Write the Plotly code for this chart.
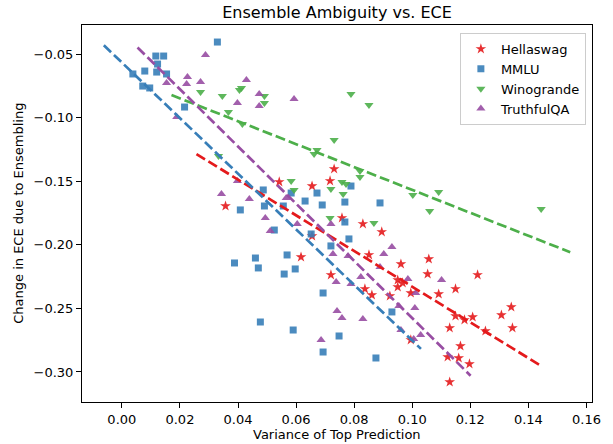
import numpy as np
import plotly.graph_objects as go

# ---- data ----
hella_x = [0.0357, 0.0542, 0.0655, 0.0717, 0.0731, 0.0655, 0.0617, 0.0758, 0.0830, 0.0895,
           0.0851, 0.0961, 0.1057, 0.0720, 0.1053, 0.1225, 0.0950, 0.0950, 0.0967, 0.0995,
           0.1091, 0.1149, 0.0837, 0.0861, 0.0923, 0.1149, 0.1180, 0.1208, 0.1307, 0.1341,
           0.1345, 0.1129, 0.1252, 0.1166, 0.0995, 0.1122, 0.1160, 0.1197, 0.1129]
hella_y = [-0.1695, -0.1506, -0.1538, -0.1498, -0.1404, -0.1931, -0.2096, -0.1789, -0.1836, -0.1899,
           -0.2080, -0.2151, -0.2112, -0.2237, -0.2230, -0.2237, -0.2277, -0.2332, -0.2300, -0.2379,
           -0.2387, -0.2347, -0.2347, -0.2395, -0.2403, -0.2560, -0.2591, -0.2568, -0.2552, -0.2489,
           -0.2654, -0.2654, -0.2678, -0.2796, -0.2748, -0.2882, -0.2890, -0.2937, -0.3079]

mmlu_x = [0.0329, 0.0117, 0.0144, 0.0123, 0.0079, 0.0120, 0.0154, 0.0038, 0.0072, 0.0096,
          0.0216, 0.0487, 0.0408, 0.0491, 0.0556, 0.0583, 0.0631, 0.0672, 0.0690, 0.0525,
          0.0652, 0.0388, 0.0460, 0.0470, 0.0569, 0.0559, 0.0597, 0.0693, 0.0477, 0.0590,
          0.0693, 0.0789, 0.0768, 0.0889, 0.0768, 0.0782, 0.0720, 0.0930, 0.0748, 0.0875]
mmlu_y = [-0.0406, -0.0516, -0.0516, -0.0579, -0.0634, -0.0642, -0.0657, -0.0657, -0.0752, -0.0767,
          -0.0917, -0.1569, -0.1726, -0.1695, -0.1695, -0.1593, -0.1656, -0.1593, -0.1687, -0.1884,
          -0.1915, -0.2143, -0.2104, -0.2182, -0.2080, -0.2230, -0.2190, -0.2379, -0.2607, -0.2670,
          -0.2843, -0.1538, -0.1664, -0.1671, -0.1821, -0.1954, -0.2009, -0.2528, -0.2717, -0.2890]

wino_x = [0.0271, 0.0346, 0.0367, 0.0405, 0.0412, 0.0415, 0.0333, 0.0491, 0.0491, 0.0789,
          0.0851, 0.0731, 0.0672, 0.0662, 0.0820, 0.0820, 0.0758, 0.0772, 0.0720, 0.0762,
          0.0583, 0.0593, 0.0717, 0.0868, 0.1002, 0.1091, 0.1060, 0.1444]
wino_y = [-0.0799, -0.0830, -0.0956, -0.0783, -0.0767, -0.1050, -0.1302, -0.0830, -0.0885, -0.0814,
          -0.0901, -0.1176, -0.1255, -0.1286, -0.1420, -0.1467, -0.1506, -0.1522, -0.1561, -0.1601,
          -0.1498, -0.1569, -0.1789, -0.1829, -0.1608, -0.1585, -0.1734, -0.1719]

tqa_x = [0.0288, 0.0226, 0.0223, 0.0271, 0.0154, 0.0429, 0.0398, 0.0473, 0.0473, 0.0593,
         0.0189, 0.0343, 0.0398, 0.0439, 0.0494, 0.0511, 0.0566, 0.0604, 0.0720, 0.0727,
         0.0779, 0.0902, 0.0930, 0.0889, 0.0985, 0.1101, 0.0738, 0.0823, 0.0789, 0.1012,
         0.0954, 0.1009, 0.0741, 0.0758, 0.0830, 0.0961, 0.1029, 0.1005, 0.0686]
tqa_y = [-0.0508, -0.0681, -0.0736, -0.0720, -0.0728, -0.0704, -0.0885, -0.0814, -0.0909, -0.0854,
         -0.0995, -0.1601, -0.1498, -0.1640, -0.1789, -0.1892, -0.1632, -0.1836, -0.1836, -0.2072,
         -0.2088, -0.2072, -0.2017, -0.2175, -0.2269, -0.2277, -0.2292, -0.2253, -0.2308, -0.2379,
         -0.2481, -0.2497, -0.2520, -0.2575, -0.2583, -0.2670, -0.2709, -0.2741, -0.2748]

x_ticks = [0.00, 0.02, 0.04, 0.06, 0.08, 0.10, 0.12, 0.14, 0.16]
x_ticktext = ["0.00", "0.02", "0.04", "0.06", "0.08", "0.10", "0.12", "0.14", "0.16"]
y_ticks = [-0.30, -0.25, -0.20, -0.15, -0.10, -0.05]
y_ticktext = ["\u22120.30", "\u22120.25", "\u22120.20", "\u22120.15", "\u22120.10", "\u22120.05"]

series = [
    ("Hellaswag", hella_x, hella_y, "#e41a1c", "star", 8),
    ("MMLU", mmlu_x, mmlu_y, "#377eb8", "square", 7),
    ("Winogrande", wino_x, wino_y, "#4daf4a", "triangle-down", 8),
    ("TruthfulQA", tqa_x, tqa_y, "#984ea3", "triangle-up", 8),
]

fig = go.Figure()
for name, xs, ys, col, sym, sz in series:
    fig.add_trace(go.Scatter(
        x=xs, y=ys, mode="markers", name=name,
        marker=dict(symbol=sym, color=col, size=sz, opacity=0.9, line=dict(width=0)),
    ))
for name, xs, ys, col, sym, sz in series:
    xa = np.array(xs)
    ya = np.array(ys)
    m, b = np.polyfit(xa, ya, 1)
    lx = np.array([xa.min() - 0.01, xa.max() + 0.01])
    fig.add_trace(go.Scatter(
        x=lx, y=m * lx + b, mode="lines", showlegend=False,
        line=dict(color=col, width=2.7, dash="10px,4px"),
    ))

font = "DejaVu Sans, Arial, sans-serif"
axis_common = dict(
    showgrid=False, zeroline=False, showline=True, linecolor="black", linewidth=1,
    mirror=True, ticks="outside", ticklen=5, tickcolor="black", tickwidth=1,
    tickfont=dict(family=font, size=13, color="black"),
)
fig.update_layout(
    width=613, height=444,
    margin=dict(l=82, r=19, t=25, b=42),
    paper_bgcolor="white", plot_bgcolor="white",
    title=dict(text="Ensemble Ambiguity vs. ECE", x=0.5, xref="paper", xanchor="center",
               y=1 - 12 / 444, yanchor="middle",
               font=dict(family=font, size=16, color="black")),
    xaxis=dict(range=[-0.01372, 0.1619], tickvals=x_ticks, ticktext=x_ticktext, **axis_common),
    yaxis=dict(range=[-0.3236, -0.0272], tickvals=y_ticks, ticktext=y_ticktext, **axis_common),
    legend=dict(x=0.988, xanchor="right", y=0.979, yanchor="top",
                bgcolor="rgba(255,255,255,0.8)", bordercolor="#cccccc", borderwidth=1,
                font=dict(family=font, size=13, color="black"), itemwidth=30, tracegroupgap=0),
    showlegend=True,
    annotations=[
        dict(text="Variance of Top Prediction", xref="paper", yref="paper", x=0.5, y=-0.0875,
             xanchor="center", yanchor="middle", showarrow=False,
             font=dict(family=font, size=13, color="black")),
        dict(text="Change in ECE due to Ensembling", xref="paper", yref="paper", x=-0.125, y=0.5,
             xanchor="center", yanchor="middle", textangle=-90, showarrow=False,
             font=dict(family=font, size=13, color="black")),
    ],
)
fig.write_html("out.html")
